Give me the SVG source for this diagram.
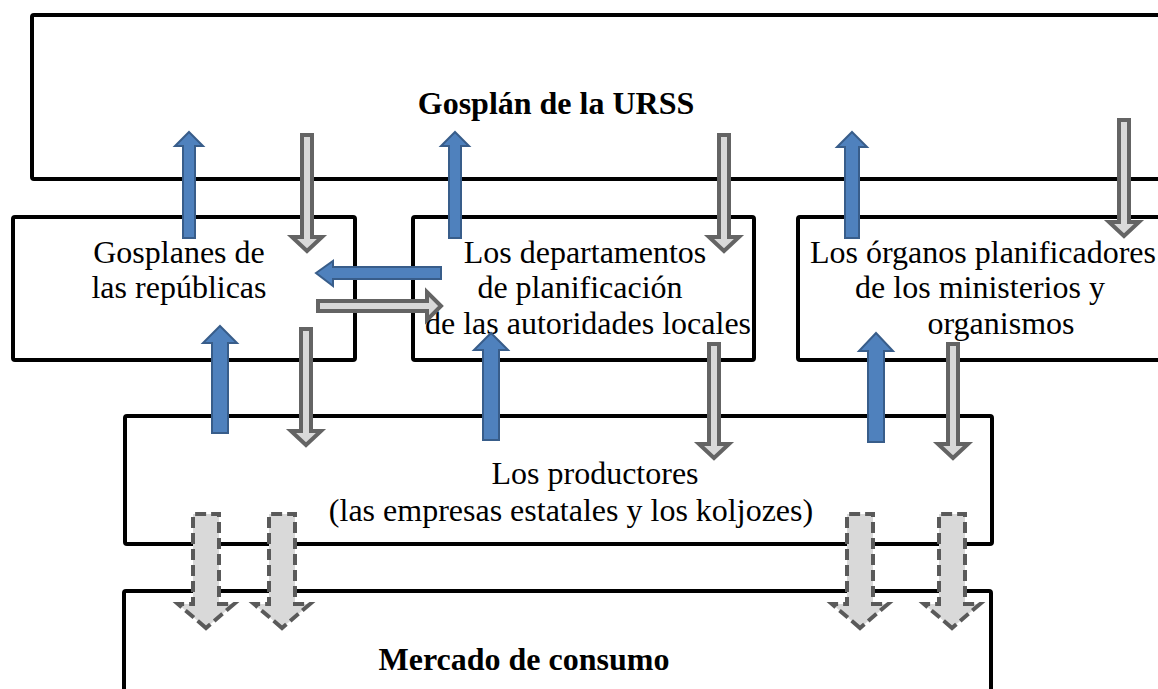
<svg xmlns="http://www.w3.org/2000/svg" width="1158" height="689" viewBox="0 0 1158 689">
<style>
.box{fill:none;stroke:#000;stroke-width:4;}
.t{font-family:"Liberation Serif","Times New Roman",serif;font-size:32px;fill:#000;}
.b{font-weight:bold;}
.blue{fill:#4f81bd;stroke:#385d8a;stroke-width:2;stroke-linejoin:miter;}
.gray{fill:#d9d9d9;stroke:#646464;stroke-width:4;stroke-linejoin:miter;}
.dash{fill:#d9d9d9;stroke:#5a5a5a;stroke-width:4;stroke-dasharray:11 5;}
</style>
<rect width="1158" height="689" fill="#fff"/>
<g id="gosplan-urss">
<rect class="box" x="32" y="15" width="1150" height="164" rx="2"/>
<text class="t b" x="556" y="114" text-anchor="middle">Gosplán de la URSS</text>
</g>
<g id="gosplanes-republicas">
<rect class="box" x="13" y="217" width="342" height="143" rx="2"/>
<text class="t" x="179" y="263" text-anchor="middle">Gosplanes de</text>
<text class="t" x="179" y="298" text-anchor="middle">las repúblicas</text>
</g>
<g id="departamentos">
<rect class="box" x="413" y="217" width="341" height="143" rx="2"/>
<text class="t" x="585" y="263" text-anchor="middle">Los departamentos</text>
<text class="t" x="580" y="298" text-anchor="middle">de planificación</text>
<text class="t" x="588" y="334" text-anchor="middle">de las autoridades locales</text>
</g>
<g id="organos">
<rect class="box" x="798" y="217" width="400" height="143" rx="2"/>
<text class="t" x="810" y="263">Los órganos planificadores</text>
<text class="t" x="980" y="298" text-anchor="middle">de los ministerios y</text>
<text class="t" x="1001" y="334" text-anchor="middle">organismos</text>
</g>
<g id="productores">
<rect class="box" x="125" y="416" width="867" height="128" rx="2"/>
<text class="t" x="595" y="484" text-anchor="middle">Los productores</text>
<text class="t" x="571" y="521" text-anchor="middle">(las empresas estatales y los koljozes)</text>
</g>
<g id="mercado">
<rect class="box" x="124" y="591" width="867" height="120" rx="2"/>
<text class="t b" x="524" y="670" text-anchor="middle">Mercado de consumo</text>
</g>
<g id="connectors">
<path class="blue" d="M189,132 L203,146 L195,146 L195,238 L183,238 L183,146 L175,146 Z"/>
<path class="blue" d="M455,132 L469,146 L461,146 L461,238 L449,238 L449,146 L441,146 Z"/>
<path class="blue" d="M852,132 L867,147 L859,147 L859,238 L845,238 L845,147 L837,147 Z"/>
<path class="blue" d="M220,326 L237,343 L228,343 L228,433 L212,433 L212,343 L203,343 Z"/>
<path class="blue" d="M491,333 L508,350 L499,350 L499,440 L483,440 L483,350 L474,350 Z"/>
<path class="blue" d="M876,333 L893,351 L884,351 L884,442 L868,442 L868,351 L859,351 Z"/>
<path class="blue" d="M316,273 L333,261 L333,267 L441,267 L441,279 L333,279 L333,286 Z"/>
<path class="gray" d="M441,306 L427,292 L427,301 L318,301 L318,311 L427,311 L427,320 Z"/>
<path class="gray" d="M307,251 L292,237 L302,237 L302,135 L312,135 L312,237 L322,237 Z"/>
<path class="gray" d="M724,251 L709,237 L719,237 L719,135 L729,135 L729,237 L739,237 Z"/>
<path class="gray" d="M1124,236 L1109,222 L1119,222 L1119,120 L1129,120 L1129,222 L1139,222 Z"/>
<path class="gray" d="M306,445 L291,431 L301,431 L301,329 L311,329 L311,431 L321,431 Z"/>
<path class="gray" d="M714,458 L699,444 L709,444 L709,344 L719,344 L719,444 L729,444 Z"/>
<path class="gray" d="M953,458 L938,444 L948,444 L948,344 L958,344 L958,444 L968,444 Z"/>
<path class="dash" d="M206,628 L178,604 L193,604 L193,514 L219,514 L219,604 L234,604 Z"/>
<path class="dash" d="M282,628 L254,604 L269,604 L269,514 L295,514 L295,604 L310,604 Z"/>
<path class="dash" d="M860,628 L832,604 L847,604 L847,514 L873,514 L873,604 L888,604 Z"/>
<path class="dash" d="M952,628 L924,604 L939,604 L939,514 L965,514 L965,604 L980,604 Z"/>
</g>
</svg>
